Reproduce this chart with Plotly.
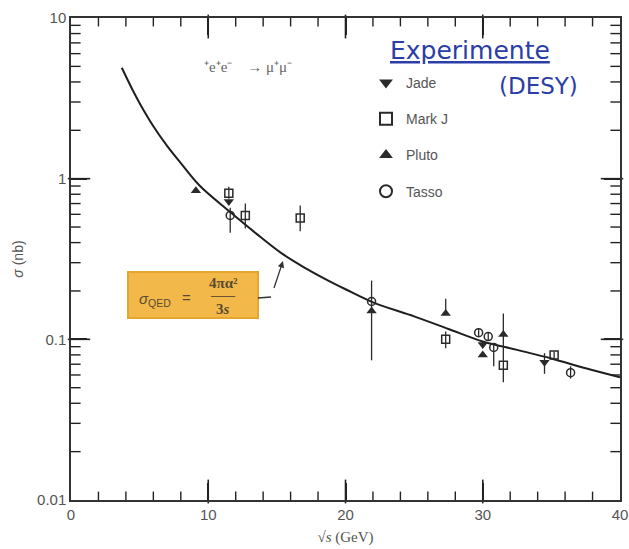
import plotly.graph_objects as go

# ---- data ----
curve_x = [3.7, 4.5, 5.0, 6.0, 7.0, 8.0, 9.4, 11.6, 13.5, 15.3, 16.7, 18.5, 20.0, 22.0, 25.0, 27.5, 30.0, 32.5, 35.0, 37.5, 40.0]
curve_y = [4.9, 3.55, 2.95, 2.12, 1.6, 1.25, 0.9, 0.62, 0.455, 0.345, 0.29, 0.238, 0.205, 0.17, 0.139, 0.116, 0.097, 0.086, 0.076, 0.066, 0.058]

jade_x = [11.5, 30.0, 34.5]
jade_y = [0.72, 0.093, 0.072]
jade_up = [0.0, 0.004, 0.010]
jade_dn = [0.0, 0.004, 0.011]

markj_x = [11.5, 12.7, 16.7, 27.3, 31.5, 35.2]
markj_y = [0.81, 0.59, 0.57, 0.100, 0.069, 0.080]
markj_up = [0.08, 0.11, 0.11, 0.012, 0.021, 0.004]
markj_dn = [0.06, 0.10, 0.10, 0.012, 0.015, 0.004]

pluto_x = [9.1, 21.9, 27.3, 30.0, 31.5]
pluto_y = [0.84, 0.150, 0.145, 0.080, 0.107]
pluto_up = [0.0, 0.082, 0.034, 0.0, 0.038]
pluto_dn = [0.0, 0.076, 0.0, 0.0, 0.017]

tasso_x = [11.6, 21.9, 29.7, 30.4, 30.8, 36.4]
tasso_y = [0.59, 0.172, 0.110, 0.104, 0.089, 0.062]
tasso_up = [0.07, 0.0, 0.006, 0.006, 0.004, 0.006]
tasso_dn = [0.13, 0.0, 0.006, 0.006, 0.021, 0.005]

x_ticks = [0, 10, 20, 30, 40]
x_minor = [2, 4, 6, 8, 12, 14, 16, 18, 22, 24, 26, 28, 32, 34, 36, 38]
y_ticks = [0.01, 0.1, 1, 10]
y_ticktext = ["0.01", "0.1", "1", "10"]
y_minor = [0.02, 0.03, 0.04, 0.05, 0.06, 0.07, 0.08, 0.09,
           0.2, 0.3, 0.4, 0.5, 0.6, 0.7, 0.8, 0.9,
           2, 3, 4, 5, 6, 7, 8, 9]

X_RANGE = [0, 40]
Y_RANGE_LOG = [-2, 1]

INK = "#2a2a2a"
AX = "#222"
L, R, T, B = 71, 9, 18, 49
W, H = 629, 549
PW, PH = W - L - R, H - T - B


def px(x):
    return (x - L) / PW


def py(y):
    return (H - B - y) / PH


fig = go.Figure()

# ---- inward tick marks drawn as line-shaped markers, placed from the tick lists via the axis scales ----
X_PER_PX = (X_RANGE[1] - X_RANGE[0]) / PW
DEC_PER_PX = (Y_RANGE_LOG[1] - Y_RANGE_LOG[0]) / PH
y_lo, y_hi = 10 ** Y_RANGE_LOG[0], 10 ** Y_RANGE_LOG[1]


def xtick_marks(vals, length, width):
    f = 10 ** (length / 2 * DEC_PER_PX)
    xs = list(vals) + list(vals)
    ys = [y_lo * f] * len(vals) + [y_hi / f] * len(vals)
    return go.Scatter(x=xs, y=ys, mode="markers", showlegend=False, hoverinfo="skip", cliponaxis=False,
                      marker=dict(symbol="line-ns", size=length, color=AX, line=dict(color=AX, width=width)))


def ytick_marks(vals, length, width):
    d = length / 2 * X_PER_PX
    xs = [X_RANGE[0] + d] * len(vals) + [X_RANGE[1] - d] * len(vals)
    ys = list(vals) + list(vals)
    return go.Scatter(x=xs, y=ys, mode="markers", showlegend=False, hoverinfo="skip", cliponaxis=False,
                      marker=dict(symbol="line-ew", size=length, color=AX, line=dict(color=AX, width=width)))


fig.add_trace(xtick_marks(x_ticks[1:-1], 17, 1.6))
fig.add_trace(xtick_marks(x_minor, 7, 1.4))
fig.add_trace(ytick_marks(y_ticks[1:-1], 16, 1.6))
fig.add_trace(ytick_marks(y_minor, 8, 1.4))

fig.add_trace(go.Scatter(x=curve_x, y=curve_y, mode="lines", line=dict(color="#1e1e1e", width=2, shape="spline"),
                         showlegend=False, hoverinfo="skip"))


def err(up, dn):
    return dict(type="data", symmetric=False, array=up, arrayminus=dn, color=INK, thickness=1.3, width=0)


fig.add_trace(go.Scatter(x=jade_x, y=jade_y, mode="markers", name="Jade", legendgroup="a",
                         error_y=err(jade_up, jade_dn),
                         marker=dict(symbol="triangle-down", size=9, color=INK)))
fig.add_trace(go.Scatter(x=markj_x, y=markj_y, mode="markers", name="Mark J", legendgroup="b",
                         error_y=err(markj_up, markj_dn),
                         marker=dict(symbol="square-open", size=8, color=INK, line=dict(width=1.5))))
fig.add_trace(go.Scatter(x=pluto_x, y=pluto_y, mode="markers", name="Pluto", legendgroup="c",
                         error_y=err(pluto_up, pluto_dn),
                         marker=dict(symbol="triangle-up", size=9, color=INK)))
fig.add_trace(go.Scatter(x=tasso_x, y=tasso_y, mode="markers", name="Tasso", legendgroup="d",
                         error_y=err(tasso_up, tasso_dn),
                         marker=dict(symbol="circle-open", size=8, color=INK, line=dict(width=1.5))))

tickfont = dict(family="Liberation Sans", size=15, color="#555")
common = dict(showline=True, linecolor="#333", linewidth=1.5, mirror="ticks", ticks="inside",
              tickcolor=AX, tickwidth=1.6, showgrid=False, zeroline=False, automargin=False)

fig.update_xaxes(range=X_RANGE, tickmode="array", tickvals=x_ticks, tickfont=tickfont, ticklen=17,
                 title=dict(text="√<i>s</i> (GeV)", font=dict(family="Liberation Serif", size=15, color="#555"), standoff=10),
                 **common)
fig.update_yaxes(type="log", range=Y_RANGE_LOG, tickmode="array", tickvals=y_ticks, ticktext=y_ticktext,
                 tickfont=tickfont, ticklen=16,
                 title=dict(text="<i>σ</i> (nb)", font=dict(family="Liberation Sans", size=14, color="#555"), standoff=10),
                 **common)

anns = []
shapes = []


def text(xp, yp, t, size, color, family="Liberation Sans"):
    anns.append(dict(x=px(xp), y=py(yp), xref="paper", yref="paper", xanchor="center", yanchor="middle",
                     showarrow=False, text=t, font=dict(family=family, size=size, color=color)))


# reaction label
text(248, 67, "⁺e⁺e⁻    → μ⁺μ⁻", 15, "#666", "Liberation Serif")
# handwritten labels
text(470, 51, "<u>Experimente</u>", 25, "#2b3da6", "DejaVu Sans")
text(538, 86, "(DESY)", 23, "#2b3da6", "DejaVu Sans")
# formula box
shapes.append(dict(type="rect", xref="paper", yref="paper", x0=px(128), x1=px(258), y0=py(318), y1=py(272),
                   fillcolor="#f2b94a", line=dict(color="#e6a431", width=2), layer="below"))
text(155, 300, "<i>σ</i><sub>QED</sub>", 15, "#5a4a30")
text(186, 297, "=", 15, "#5a4a30")
text(223, 283, "<b>4πα²</b>", 15, "#5a4a30", "Liberation Serif")
text(223, 296, "<b>────</b>", 10, "#5a4a30", "DejaVu Sans")
text(223, 309, "<b>3<i>s</i></b>", 15, "#5a4a30", "Liberation Serif")
# arrow from box to curve
shapes.append(dict(type="line", xref="paper", yref="paper", x0=px(258), x1=px(271), y0=py(298), y1=py(297),
                   line=dict(color="#333", width=1.3)))
anns.append(dict(x=px(283), y=py(261), xref="paper", yref="paper", ax=-12, ay=36,
                 showarrow=True, arrowhead=2, arrowsize=1, arrowwidth=1.3,
                 arrowcolor="#333", text=" "))

fig.update_layout(
    width=W, height=H, margin=dict(l=L, r=R, t=T, b=B, autoexpand=False),
    paper_bgcolor="white", plot_bgcolor="white",
    annotations=anns, shapes=shapes,
    legend=dict(x=px(366), y=py(67), xanchor="left", yanchor="top", bgcolor="rgba(0,0,0,0)",
                traceorder="grouped", tracegroupgap=15, itemsizing="constant",
                font=dict(family="Liberation Sans", size=14, color="#555")),
)

fig.write_html("out.html")
